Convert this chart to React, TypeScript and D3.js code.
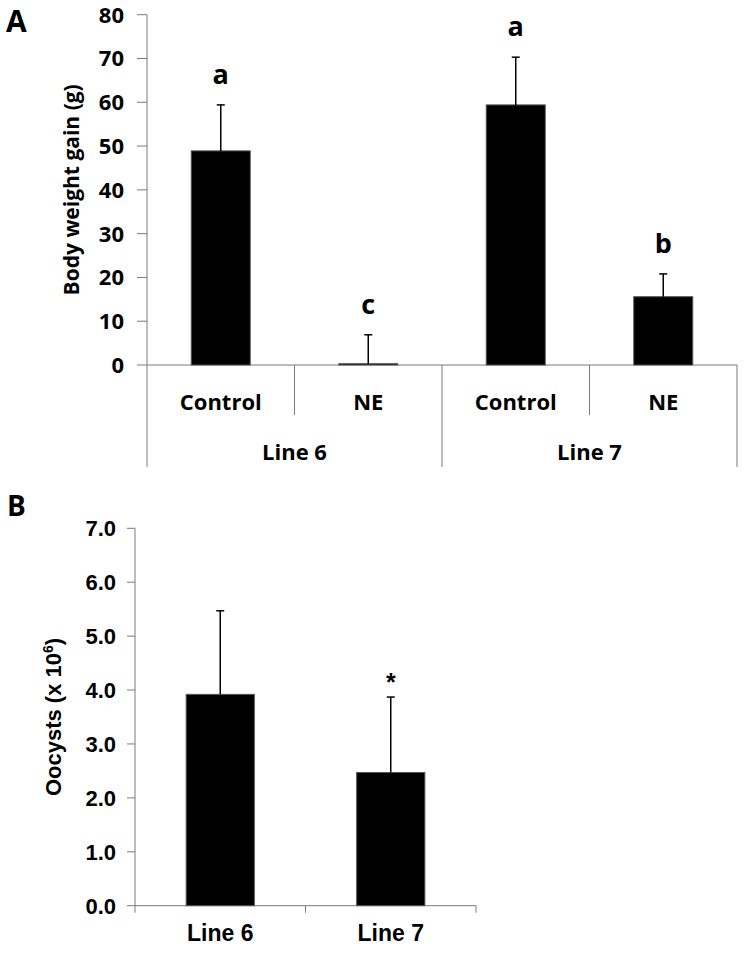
import * as d3 from "d3";

// Panel A: body weight gain
const linesA = ["Line 6", "Line 7"];
const treatments = ["Control", "NE"];
const gainMeans = [48.9, 0.3, 59.4, 15.6];
const gainErrors = [10.5, 6.6, 10.9, 5.2];
const gainLetters = ["a", "c", "a", "b"];
const gainTicks = [0, 10, 20, 30, 40, 50, 60, 70, 80];

// Panel B: oocyst output
const linesB = ["Line 6", "Line 7"];
const oocystMeans = [3.92, 2.47];
const oocystErrors = [1.55, 1.4];
const oocystMarks = ["", "*"];
const oocystTicks = [0, 1, 2, 3, 4, 5, 6, 7];

const fontA = "'Open Sans', 'Noto Sans', sans-serif";
const fontB = "'Liberation Sans', Arial, sans-serif";
const axisColor = "#7a7a7a";

function PanelA() {
    const y = d3.scaleLinear().domain([0, 80]).range([365, 14.7]);
    const outer = d3.scaleBand<string>().domain(linesA).range([147, 737]);
    const inner = d3.scaleBand<string>().domain(treatments).range([0, outer.bandwidth()]);
    const bars = linesA.flatMap((line, li) =>
        treatments.map((t, ti) => {
            const i = li * treatments.length + ti;
            return {
                x0: (outer(line) ?? 0) + (inner(t) ?? 0),
                w: inner.bandwidth(),
                t,
                mean: gainMeans[i],
                err: gainErrors[i],
                letter: gainLetters[i],
            };
        })
    );
    const base = y(0);
    return (
        <g>
            <text x={6} y={32} fontFamily={fontA} fontWeight="bold" fontSize={30}>
                A
            </text>
            <text
                transform={`translate(79, ${(y(0) + y(80)) / 2}) rotate(-90)`}
                textAnchor="middle"
                fontFamily={fontA}
                fontWeight="bold"
                fontSize={21}
            >
                Body weight gain (g)
            </text>
            {/* y axis */}
            <line x1={147} x2={147} y1={y(80)} y2={467} stroke={axisColor} />
            {gainTicks.map((t) => (
                <g key={t}>
                    <line x1={137} x2={147} y1={y(t)} y2={y(t)} stroke={axisColor} />
                    <text
                        x={124}
                        y={y(t)}
                        dy="0.36em"
                        textAnchor="end"
                        fontFamily={fontA}
                        fontWeight="bold"
                        fontSize={22}
                    >
                        {t}
                    </text>
                </g>
            ))}
            <line x1={147} x2={737} y1={base} y2={base} stroke={axisColor} />
            {/* category separators */}
            {bars.map((b, i) => (
                <line
                    key={i}
                    x1={b.x0 + b.w}
                    x2={b.x0 + b.w}
                    y1={base}
                    y2={i % 2 === 0 ? 415 : 467}
                    stroke={axisColor}
                />
            ))}
            {bars.map((b, i) => {
                const cx = b.x0 + b.w / 2;
                const bw = b.w * 0.4;
                const top = y(b.mean);
                const eTop = y(b.mean + b.err);
                return (
                    <g key={i}>
                        <rect
                            x={cx - bw / 2}
                            y={top}
                            width={bw}
                            height={Math.max(base - top, 1)}
                            fill="#000"
                            stroke="#555"
                            strokeWidth={1}
                        />
                        <line x1={cx} x2={cx} y1={top} y2={eTop} stroke="#000" strokeWidth={1.5} />
                        <line x1={cx - 4} x2={cx + 4} y1={eTop} y2={eTop} stroke="#000" strokeWidth={1.5} />
                        <text
                            x={cx}
                            y={eTop - 21}
                            textAnchor="middle"
                            fontFamily={fontA}
                            fontWeight="bold"
                            fontSize={27}
                        >
                            {b.letter}
                        </text>
                        <text
                            x={cx}
                            y={410}
                            textAnchor="middle"
                            fontFamily={fontA}
                            fontWeight="bold"
                            fontSize={22}
                        >
                            {b.t}
                        </text>
                    </g>
                );
            })}
            {linesA.map((l) => (
                <text
                    key={l}
                    x={(outer(l) ?? 0) + outer.bandwidth() / 2}
                    y={460}
                    textAnchor="middle"
                    fontFamily={fontA}
                    fontWeight="bold"
                    fontSize={22}
                >
                    {l}
                </text>
            ))}
        </g>
    );
}

function PanelB() {
    const y = d3.scaleLinear().domain([0, 7]).range([905.7, 528.3]);
    const x = d3.scaleBand<string>().domain(linesB).range([135, 476]);
    const base = y(0);
    return (
        <g>
            <text x={7} y={516} fontFamily={fontA} fontWeight="bold" fontSize={28}>
                B
            </text>
            <text
                transform={`translate(61, ${(y(0) + y(7)) / 2}) rotate(-90)`}
                textAnchor="middle"
                fontFamily={fontB}
                fontWeight="bold"
                fontSize={22}
            >
                Oocysts (x 10
                <tspan dy={-8} fontSize={14}>
                    6
                </tspan>
                <tspan dy={8}>)</tspan>
            </text>
            <line x1={135} x2={135} y1={y(7)} y2={base + 7} stroke={axisColor} />
            {oocystTicks.map((t) => (
                <g key={t}>
                    <line x1={127} x2={135} y1={y(t)} y2={y(t)} stroke={axisColor} />
                    <text
                        x={116}
                        y={y(t)}
                        dy="0.36em"
                        textAnchor="end"
                        fontFamily={fontB}
                        fontWeight="bold"
                        fontSize={22}
                    >
                        {t.toFixed(1)}
                    </text>
                </g>
            ))}
            <line x1={135} x2={476} y1={base} y2={base} stroke={axisColor} />
            {linesB.map((l, i) => {
                const x0 = x(l) ?? 0;
                const cx = x0 + x.bandwidth() / 2;
                const bw = x.bandwidth() * 0.4;
                const top = y(oocystMeans[i]);
                const eTop = y(oocystMeans[i] + oocystErrors[i]);
                return (
                    <g key={l}>
                        <line
                            x1={x0 + x.bandwidth()}
                            x2={x0 + x.bandwidth()}
                            y1={base}
                            y2={base + 7}
                            stroke={axisColor}
                        />
                        <rect x={cx - bw / 2} y={top} width={bw} height={base - top} fill="#000" stroke="#555" />
                        <line x1={cx} x2={cx} y1={top} y2={eTop} stroke="#000" strokeWidth={1.5} />
                        <line x1={cx - 4} x2={cx + 4} y1={eTop} y2={eTop} stroke="#000" strokeWidth={1.5} />
                        {oocystMarks[i] && (
                            <text
                                x={cx}
                                y={eTop - 6}
                                textAnchor="middle"
                                fontFamily={fontB}
                                fontWeight="bold"
                                fontSize={25}
                            >
                                {oocystMarks[i]}
                            </text>
                        )}
                        <text
                            x={cx}
                            y={941}
                            textAnchor="middle"
                            fontFamily={fontB}
                            fontWeight="bold"
                            fontSize={23}
                        >
                            {l}
                        </text>
                    </g>
                );
            })}
        </g>
    );
}

export default function App() {
    return (
        <svg
            width={745}
            height={966}
            style={{ position: "absolute", left: 0, top: 0, background: "#fff" }}
        >
            <rect width={745} height={966} fill="#fff" />
            <PanelA />
            <PanelB />
        </svg>
    );
}
